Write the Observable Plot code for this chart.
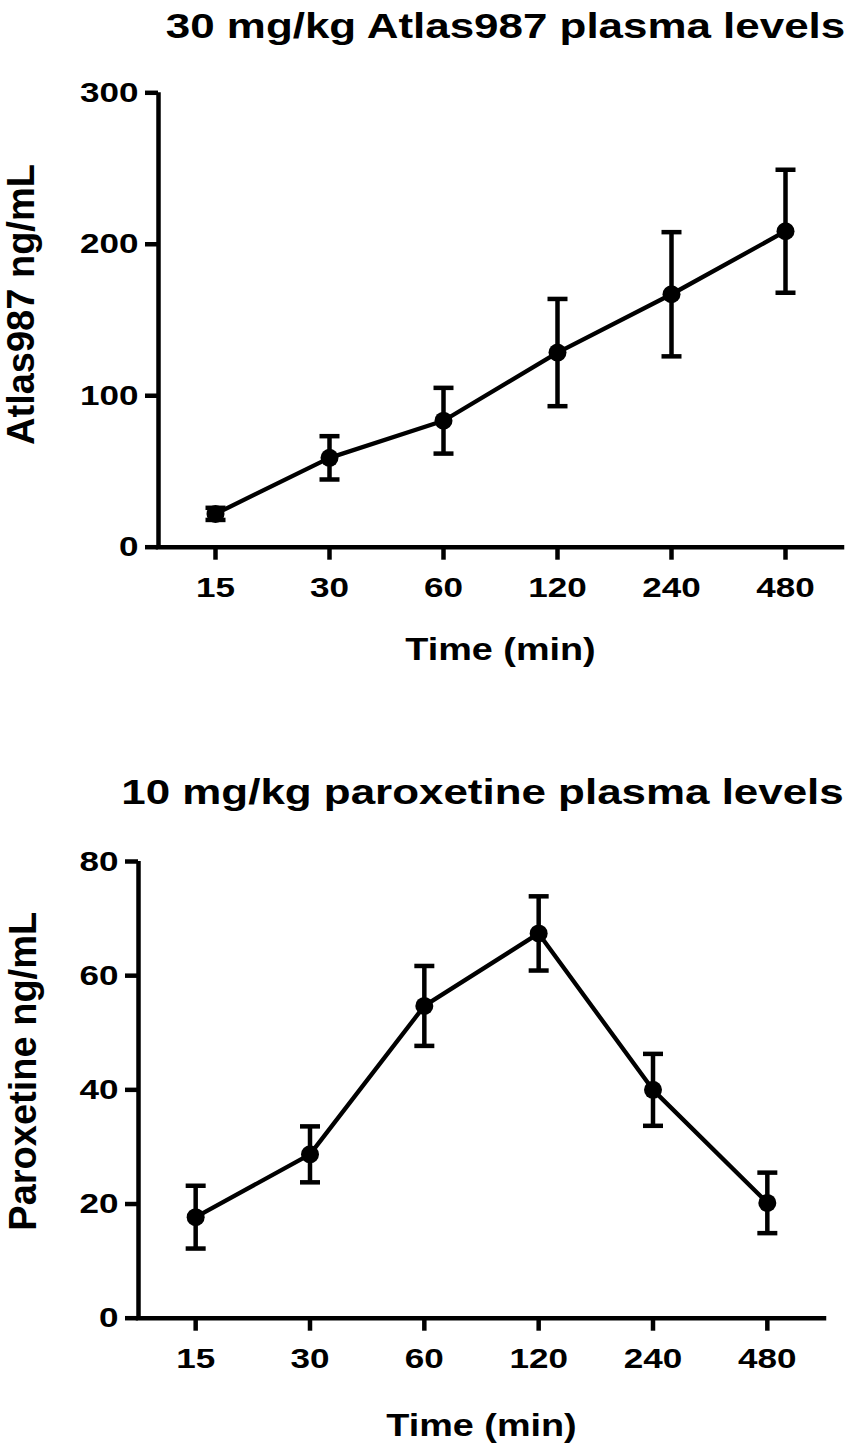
<!DOCTYPE html>
<html>
<head>
<meta charset="utf-8">
<script src="https://cdn.jsdelivr.net/npm/d3@7"></script>
<script src="https://cdn.jsdelivr.net/npm/@observablehq/plot@0.6"></script>
<style>
  html, body { margin: 0; padding: 0; background: #fff; }
  #root { width: 851px; }
  svg { display: block; }
</style>
</head>
<body>
<div id="root"></div>
<script>
// ---- data ----
const times = ["15", "30", "60", "120", "240", "480"];
const atlasMean = [22, 59, 83.5, 128.5, 167, 208.6];
const atlasErr = [4, 14.3, 21.7, 35.4, 41, 40.6];
const paroxMean = [17.7, 28.7, 54.7, 67.4, 40, 20.2];
const paroxErr = [5.5, 4.9, 7, 6.5, 6.3, 5.3];
const atlasTicks = [0, 100, 200, 300];
const paroxTicks = [0, 20, 40, 60, 80];

const capSymbol = {
  draw(context, size) {
    const r = Math.sqrt(size / Math.PI);
    context.moveTo(-r, 0);
    context.lineTo(r, 0);
  }
};

function panel(o) {
  const data = times.map((t, i) => ({i, t, mean: o.mean[i], lo: o.mean[i] - o.err[i], hi: o.mean[i] + o.err[i]}));
  const idx = times.map((t, i) => i);
  return Plot.plot({
    width: 851,
    height: 723,
    marginLeft: o.marginLeft,
    marginRight: o.marginRight,
    marginTop: o.marginTop,
    marginBottom: o.marginBottom,
    style: {fontFamily: "'Liberation Sans', Arial, sans-serif", fontWeight: "bold", color: "black", background: "white", overflow: "visible"},
    x: {domain: [-0.5, times.length - 0.5]},
    y: {domain: [0, o.yMax]},
    marks: [
      Plot.axisX({ticks: idx, tickFormat: i => times[i], tickSize: 13, tickPadding: 17, strokeWidth: 4.5, fontSize: 28.5, fontWeight: "bold", label: null}),
      Plot.axisY({ticks: o.yTicks, tickSize: 13, tickPadding: 7, strokeWidth: 4.5, fontSize: 28.5, fontWeight: "bold", label: null}),
      Plot.ruleY([0], {stroke: "black", strokeWidth: 4.5, strokeLinecap: "square"}),
      Plot.ruleX([-0.5], {stroke: "black", strokeWidth: 4.5}),
      Plot.line(data, {x: "i", y: "mean", stroke: "black", strokeWidth: 4.3}),
      Plot.ruleX(data, {x: "i", y1: "lo", y2: "hi", stroke: "black", strokeWidth: 4.5}),
      Plot.dot(data, {x: "i", y: "hi", symbol: capSymbol, r: 10, stroke: "black", strokeWidth: 4.5, fill: "none"}),
      Plot.dot(data, {x: "i", y: "lo", symbol: capSymbol, r: 10, stroke: "black", strokeWidth: 4.5, fill: "none"}),
      Plot.dot(data, {x: "i", y: "mean", r: 9, fill: "black", stroke: "none"}),
      Plot.text([o.title], {frameAnchor: "top", lineAnchor: "bottom", textAnchor: "middle", dx: o.titleDx, dy: o.titleDy, fontSize: 35, fontWeight: "bold", fill: "black"}),
      Plot.text(["Time (min)"], {frameAnchor: "bottom", lineAnchor: "bottom", textAnchor: "middle", dy: o.xLabelDy, fontSize: 31.5, fontWeight: "bold", fill: "black"}),
      Plot.text([o.yLabel], {frameAnchor: "left", lineAnchor: "bottom", textAnchor: "middle", rotate: -90, dx: o.yLabelDx, dy: o.yLabelDy, fontSize: 38, fontWeight: "bold", fill: "black"})
    ]
  });
}

const root = document.getElementById("root");
const topPanel = panel({
  title: "30 mg/kg Atlas987 plasma levels",
  yLabel: "Atlas987 ng/mL",
  mean: atlasMean, err: atlasErr, yMax: 300, yTicks: atlasTicks,
  marginLeft: 158, marginRight: 9, marginTop: 92.3, marginBottom: 176.3,
  titleDx: 5, titleDy: -55, xLabelDy: 113, yLabelDx: -125, yLabelDy: -15.5
});
const bottomPanel = panel({
  title: "10 mg/kg paroxetine plasma levels",
  yLabel: "Paroxetine ng/mL",
  mean: paroxMean, err: paroxErr, yMax: 80, yTicks: paroxTicks,
  marginLeft: 138, marginRight: 27, marginTop: 138, marginBottom: 128.3,
  titleDx: 1, titleDy: -57.7, xLabelDy: 118, yLabelDx: -103, yLabelDy: -18.6
});
root.appendChild(topPanel);
root.appendChild(bottomPanel);

// widen horizontal lettering (glyphs stretched about each text's anchor point)
for (const svg of [topPanel, bottomPanel]) {
  svg.querySelectorAll("text").forEach(t => {
    const s = t.textContent;
    if (/ng\/mL/.test(s)) return;
    const k = /^\d+$/.test(s) ? 1.23 : /plasma/.test(s) ? 1.255 : 1.2;
    const ax = parseFloat(t.getAttribute("x")) || 0;
    const old = t.getAttribute("transform");
    t.setAttribute("transform", (old ? old + " " : "") + `translate(${ax},0) scale(${k},1) translate(${-ax},0)`);
  });
}
</script>
</body>
</html>
